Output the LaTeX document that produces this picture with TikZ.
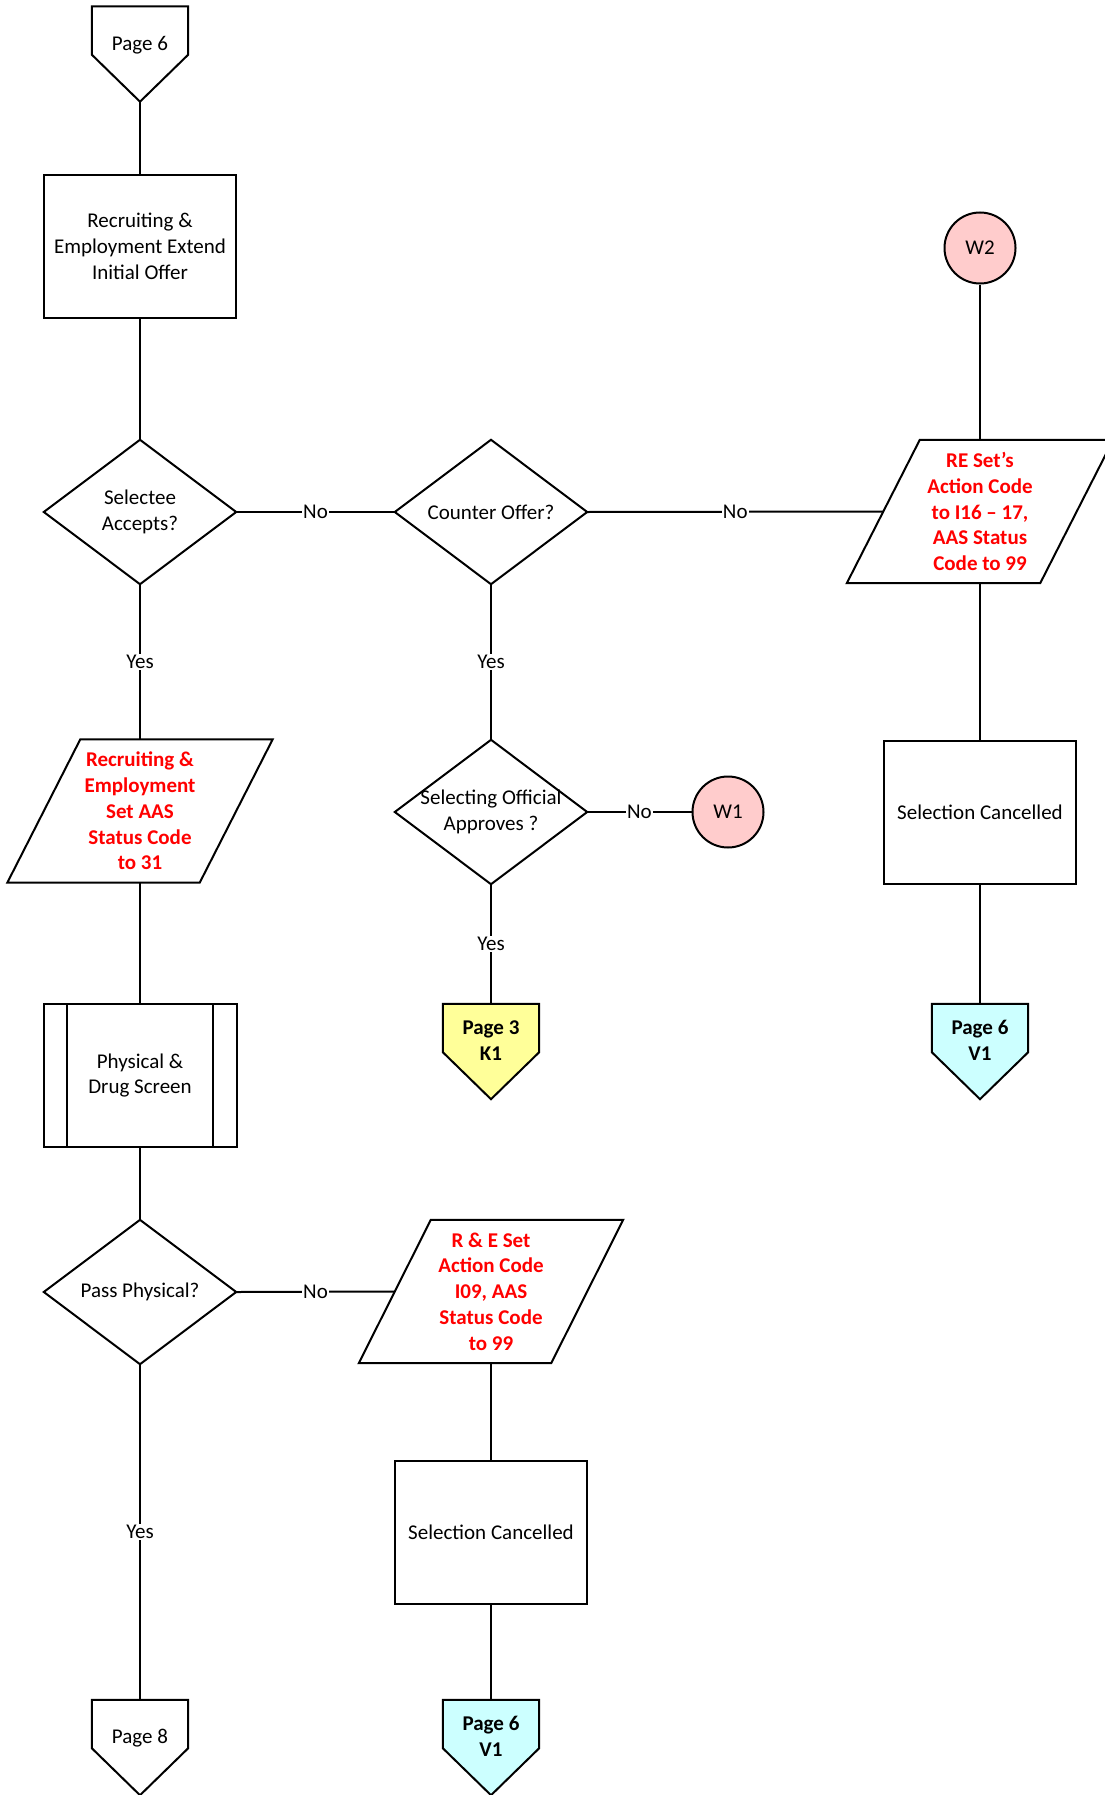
\documentclass[tikz,border=0pt]{standalone}
\usepackage{fontspec}
\setmainfont{Carlito}
\usetikzlibrary{backgrounds}
\definecolor{wpink}{HTML}{FFCCCC}
\definecolor{pyellow}{HTML}{FFFF99}
\definecolor{pcyan}{HTML}{CCFFFF}
\definecolor{redtxt}{HTML}{FF0000}
\newcommand\myfs{\fontsize{21}{25.8}\selectfont}
\newcommand\drawdia[1]{\begin{pgfonlayer}{background}\draw[outl] (#1.west) -- (#1.north) -- (#1.east) -- (#1.south) -- cycle;\end{pgfonlayer}}
\newcommand\drawpara[2]{\begin{pgfonlayer}{background}\draw[outl] (#1.south west) -- ([xshift=-#2]#1.south east) -- (#1.north east) -- ([xshift=#2]#1.north west) -- cycle;\end{pgfonlayer}}
\newcommand\drawoff[2]{\begin{pgfonlayer}{background}\draw[outl, fill=#2] (#1.north west) -- (#1.north east) -- ([yshift=47pt]#1.south east) -- (#1.south) -- ([yshift=47pt]#1.south west) -- cycle;\end{pgfonlayer}}
\tikzset{
  base/.style={inner sep=0pt, align=center, font=\myfs},
  procbox/.style={base, rectangle, draw, fill=white, line width=2pt, minimum width=192pt, minimum height=143pt},
  decision/.style={base, rectangle, minimum width=192pt, minimum height=144pt},
  iobox/.style={base, rectangle, minimum height=143pt, font=\myfs\bfseries, text=redtxt},
  offpage/.style={base, rectangle, minimum width=96pt, minimum height=95pt, text depth=22pt},
  conn/.style={base, circle, draw, line width=2pt, fill=wpink, minimum size=71pt},
  outl/.style={draw, fill=white, line width=2pt, line join=miter},
  lbl/.style={fill=white, inner sep=1pt, font=\myfs},
  wire/.style={line width=2pt},
}
\begin{document}
\begin{tikzpicture}[x=1pt, y=-1pt]
\path[use as bounding box] (0,0) rectangle (1104,1795);

% left column
\node[offpage] (ptop) at (140,54) {Page 6};
\drawoff{ptop}{white}
\node[procbox] (offer) at (140,246.5) {Recruiting \&\\Employment Extend\\Initial Offer};
\node[decision] (accept) at (140,512) {Selectee\\Accepts?};
\drawdia{accept}
\node[iobox, minimum width=265pt] (reaas) at (140,811) {Recruiting \&\\Employment\\Set AAS\\Status Code\\to 31};
\drawpara{reaas}{73pt}
\node[procbox, minimum width=193pt] (phys) at (140,1075.5) {Physical \&\\Drug Screen};
\draw[wire] ([xshift=24.5pt]phys.north west) -- ([xshift=24.5pt]phys.south west);
\draw[wire] ([xshift=-24.5pt]phys.north east) -- ([xshift=-24.5pt]phys.south east);
\node[decision] (pass) at (140,1292) {Pass Physical?};
\drawdia{pass}
\node[offpage] (p8) at (140,1747.5) {Page 8};
\drawoff{p8}{white}

% middle column
\node[decision] (counter) at (491,512) {Counter Offer?};
\drawdia{counter}
\node[decision] (approve) at (491,812) {Selecting Official\\Approves ?};
\drawdia{approve}
\node[conn] (w1) at (728,812) {W1};
\node[offpage, font=\myfs\bfseries] (pk1) at (491,1051.5) {Page 3\\K1};
\drawoff{pk1}{pyellow}
\node[iobox, minimum width=264pt] (reset2) at (491,1291.5) {R \& E Set\\Action Code\\I09, AAS\\Status Code\\to 99};
\drawpara{reset2}{72pt}
\node[procbox] (cancelB) at (491,1532) {Selection Cancelled};
\node[offpage, font=\myfs\bfseries] (pv1b) at (491,1747.5) {Page 6\\V1};
\drawoff{pv1b}{pcyan}

% right column
\node[conn] (w2) at (980,248) {W2};
\node[iobox, minimum width=266pt] (reset) at (980,511.5) {RE Set’s\\Action Code\\to I16 – 17,\\AAS Status\\Code to 99};
\drawpara{reset}{73pt}
\node[procbox] (cancelA) at (980,812) {Selection Cancelled};
\node[offpage, font=\myfs\bfseries] (pv1a) at (980,1051.5) {Page 6\\V1};
\drawoff{pv1a}{pcyan}

% connectors
\draw[wire] (ptop.south) -- (offer.north);
\draw[wire] (offer.south) -- (accept.north);
\draw[wire] (accept.east) -- node[lbl]{No} (counter.west);
\draw[wire] (counter.east) -- node[lbl]{No} ([xshift=36.5pt]reset.west);
\draw[wire] (w2.south) -- (reset.north);
\draw[wire] (reset.south) -- (cancelA.north);
\draw[wire] (cancelA.south) -- (pv1a.north);
\draw[wire] (accept.south) -- node[lbl]{Yes} (reaas.north);
\draw[wire] (reaas.south) -- (phys.north);
\draw[wire] (phys.south) -- (pass.north);
\draw[wire] (pass.east) -- node[lbl]{No} ([xshift=36pt]reset2.west);
\draw[wire] (reset2.south) -- (cancelB.north);
\draw[wire] (cancelB.south) -- (pv1b.north);
\draw[wire] (pass.south) -- node[lbl]{Yes} (p8.north);
\draw[wire] (counter.south) -- node[lbl]{Yes} (approve.north);
\draw[wire] (approve.south) -- node[lbl]{Yes} (pk1.north);
\draw[wire] (approve.east) -- node[lbl]{No} (w1.west);
\end{tikzpicture}
\end{document}
